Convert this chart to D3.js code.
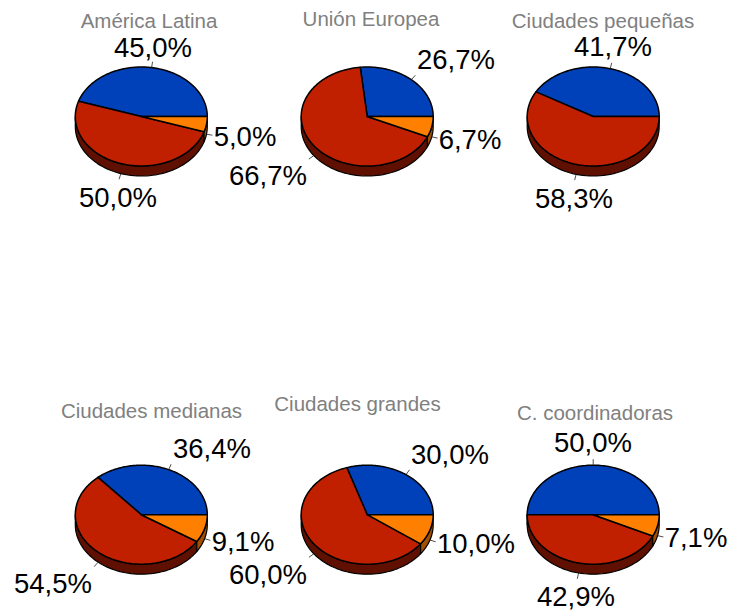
<!DOCTYPE html>
<html><head><meta charset="utf-8">
<script src="https://cdn.jsdelivr.net/npm/d3@7/dist/d3.min.js"></script>
<style>html,body{margin:0;padding:0;background:#fff}svg{display:block}text{font-family:"Liberation Sans",Arial,sans-serif}</style>
</head><body><svg id="c" width="733" height="612"></svg>
<script>
// Data
const titles = ["América Latina","Unión Europea","Ciudades pequeñas","Ciudades medianas","Ciudades grandes","C. coordinadoras"];
const blueValues = [45.0,26.7,41.7,36.4,30.0,50.0];
const redValues = [50.0,66.7,58.3,54.5,60.0,42.9];
const orangeValues = [5.0,6.7,0,9.1,10.0,7.1];

// Layout
const centers = [[141.3,116.5],[367.2,116.5],[593.2,116.5],[141.3,514.7],[367.2,514.7],[593.2,514.7]];
const titlePos = [[149,28],[371,26],[603,28],[151.5,418],[357.5,411],[595,420]];
const labelPos = [
  [[153,57],[118,207],[245,146]],
  [[456,69],[268,185],[470,149]],
  [[613,56],[574,208],[0,0]],
  [[212,458],[53,593],[243,551]],
  [[450,464],[268,584],[476,553]],
  [[593,452],[576,606],[696,547]]
];
const rx=66, ry=49.5, depth=10;
const topColors=["#0040b8","#c02000","#ff8000"];
const wallColors=["#002060","#601000","#a05000"];

const svg=d3.select("#c");
const pie=d3.pie().sort(null).value(d=>d);
const fmt=v=>v.toFixed(1).replace(".",",")+"%";

titles.forEach((t,i)=>{
  const [cx,cy]=centers[i];
  const sx=d3.scaleLinear().domain([-1,1]).range([cx-rx,cx+rx]);
  const sy=d3.scaleLinear().domain([-1,1]).range([cy-ry,cy+ry]);
  const arcs=pie([blueValues[i],redValues[i],orangeValues[i]]);
  // Angle measured counter-clockwise from 3 o'clock
  const px=a=>sx(Math.cos(a)), py=a=>sy(-Math.sin(a));
  const g=svg.append("g");
  arcs.forEach((d,k)=>{
    if(d.value===0) return;
    const a0=Math.max(d.startAngle,Math.PI), a1=Math.min(d.endAngle,2*Math.PI);
    if(a1<=a0) return;
    const pts=d3.range(0,61).map(j=>a0+(a1-a0)*j/60);
    const top=d3.line().x(a=>px(a)).y(a=>py(a))(pts);
    const bottom=d3.line().x(a=>px(a)).y(a=>py(a)+depth)(pts.slice().reverse());
    g.append("path").attr("d",top+"L"+bottom.slice(1)+"Z").attr("fill",wallColors[k]).attr("stroke","#000").attr("stroke-width",1.2).attr("stroke-linejoin","round");
  });
  arcs.forEach((d,k)=>{
    if(d.value===0) return;
    const pts=d3.range(0,121).map(j=>d.startAngle+(d.endAngle-d.startAngle)*j/120);
    const p=d3.line().x(a=>px(a)).y(a=>py(a))(pts);
    g.append("path").attr("d",`M${cx},${cy}L${p.slice(1)}Z`).attr("fill",topColors[k]).attr("stroke","#000").attr("stroke-width",1.5).attr("stroke-linejoin","round");
  });
  arcs.forEach((d,k)=>{
    if(d.value===0) return;
    const mid=(d.startAngle+d.endAngle)/2;
    const dy=Math.sin(mid)<0?depth:0;
    g.append("line").attr("x1",px(mid)).attr("y1",py(mid)+dy)
      .attr("x2",px(mid)+Math.cos(mid)*6).attr("y2",py(mid)+dy-Math.sin(mid)*6)
      .attr("stroke","#222").attr("stroke-width",.8);
    const lp=labelPos[i][k];
    g.append("text").attr("x",lp[0]).attr("y",lp[1]).attr("text-anchor","middle")
      .attr("font-size",27.5).attr("fill","#000").text(fmt(d.value));
  });
  const tp=titlePos[i];
  svg.append("text").attr("x",tp[0]).attr("y",tp[1]).attr("text-anchor","middle")
    .attr("font-size",20.5).attr("fill","#808080").text(t);
});
</script></body></html>
